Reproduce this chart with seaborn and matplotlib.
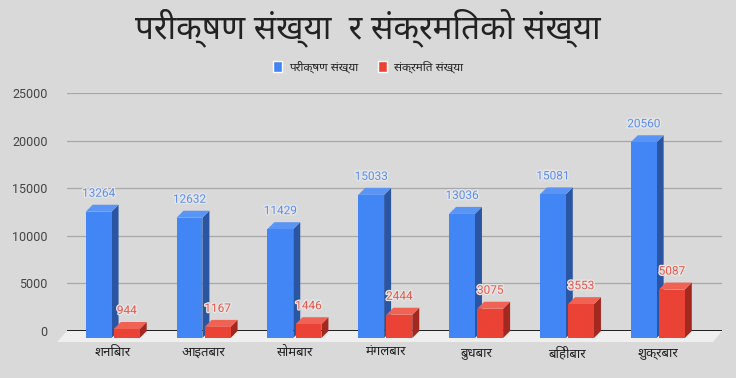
import numpy as np
import pandas as pd
import seaborn as sns
import matplotlib
matplotlib.use('Agg')
import matplotlib.pyplot as plt
from matplotlib import font_manager, ft2font
from matplotlib.patches import Patch, Polygon
from matplotlib.transforms import offset_copy, IdentityTransform
import matplotlib.patheffects as pe

days = ['शनिबार', 'आइतबार', 'सोमबार', 'मंगलबार', 'बुधबार', 'बिहीबार', 'शुक्रबार']
tests = [13264, 12632, 11429, 15033, 13036, 15081, 20560]
infected = [944, 1167, 1446, 2444, 3075, 3553, 5087]
series_names = ['परीक्षण संख्या', 'संक्रमित संख्या']
title = 'परीक्षण संख्या  र संक्रमितको संख्या'
y_ticks = [0, 5000, 10000, 15000, 20000, 25000]


def find_deva_font():
    # any installed font with Devanagari glyphs, nicer ones first
    found = []
    for f in font_manager.fontManager.ttflist:
        try:
            cmap = ft2font.FT2Font(f.fname).get_charmap()
        except Exception:
            continue
        if 0x092A in cmap and 0x0915 in cmap:
            found.append(f.name)
    for pref in ['Noto Sans Devanagari', 'Lohit Devanagari', 'Mukta', 'Kalimati', 'FreeSans']:
        if pref in found:
            return pref
    return found[0] if found else None


deva = find_deva_font()
deva_family = ([deva] if deva else []) + ['DejaVu Sans']

BG = '#d9d9d9'
BLUE = ['#4285f4', '#2a55a3', '#5a94f5']   # front, side, top
RED = ['#ea4335', '#a3281f', '#ef6254']
DEPTH = 7  # px

sns.set_theme(style='white')
plt.rcParams['font.family'] = deva_family

df = pd.DataFrame({
    'day': days * 2,
    'value': tests + infected,
    'series': [series_names[0]] * len(days) + [series_names[1]] * len(days),
})

fig = plt.figure(figsize=(7.36, 3.78), dpi=100, facecolor=BG)
ax = fig.add_axes([67 / 736, 47 / 378, 655 / 736, 238 / 378])
ax.set_facecolor(BG)

sns.barplot(data=df, x='day', y='value', hue='series', order=days,
            palette=[BLUE[0], RED[0]], saturation=1, width=0.62, gap=0.08,
            linewidth=0, edgecolor='none', legend=False, ax=ax, zorder=3)

ax.set_xlim(-0.58, 6.63)
ax.set_ylim(0, 25000)
ax.set_yticks(y_ticks)
ax.set_yticklabels([str(t) for t in y_ticks], family='Roboto', color='#444444', fontsize=9)
ax.tick_params(axis='y', length=0, pad=14)
ax.grid(axis='y', color='#a8a8a8', lw=0.9, zorder=0)
ax.set_axisbelow(True)
for s in ax.spines.values():
    s.set_visible(False)
ax.set_xlabel('')
ax.set_ylabel('')

fig.canvas.draw()

# floor strip under the bars
disp = ax.transData.transform
x0d, yb = disp((ax.get_xlim()[0], 0))
x1d, _ = disp((ax.get_xlim()[1], 0))
ax.add_patch(Polygon([(x0d, yb), (x1d, yb), (x1d - 9, yb - 11), (x0d - 10, yb - 11)],
                     closed=True, transform=IdentityTransform(), facecolor='#efefef',
                     edgecolor='none', zorder=1, clip_on=False))
ax.axhline(0, color='black', lw=1.2, zorder=1.5)

# 3d look: front face shifted down-left, side and top faces back to data position
front_tr = offset_copy(ax.transData, fig=fig, x=-DEPTH, y=-DEPTH, units='dots')
bars = list(ax.patches)[:2 * len(days)]
for i, p in enumerate(bars):
    cols = BLUE if i < len(days) else RED
    bx, by, bw, bh = p.get_x(), p.get_y(), p.get_width(), p.get_height()
    xl, yl = disp((bx, by))
    xr, yt = disp((bx + bw, by + bh))
    d = DEPTH
    side = [(xr - d, yl - d), (xr - d, yt - d), (xr, yt), (xr, yl)]
    top = [(xl - d, yt - d), (xr - d, yt - d), (xr, yt), (xl, yt)]
    ax.add_patch(Polygon(side, closed=True, transform=IdentityTransform(),
                         facecolor=cols[1], edgecolor='none', zorder=2, clip_on=False))
    ax.add_patch(Polygon(top, closed=True, transform=IdentityTransform(),
                         facecolor=cols[2], edgecolor='none', zorder=2, clip_on=False))
    p.set_transform(front_tr)
    p.set_clip_on(False)
    p.set_zorder(3)
    p.set_linewidth(0)

# value labels
lab_tr = offset_copy(ax.transData, fig=fig, x=-DEPTH, y=5, units='dots')
for i, p in enumerate(bars):
    val = (tests + infected)[i]
    col = '#5b8def' if i < len(days) else '#e8574b'
    ax.text(p.get_x() + p.get_width() / 2, val, str(val), transform=lab_tr,
            ha='center', va='bottom', color=col, fontsize=8.5, family='Roboto',
            zorder=6, clip_on=False,
            path_effects=[pe.withStroke(linewidth=2, foreground='#e6e6e6')])

# x labels, centred under the front faces
ax.set_xticks(range(len(days)))
ax.set_xticklabels(days, family=deva_family, fontsize=9.5, color='#222222')
ax.tick_params(axis='x', length=0, pad=11)
for lab in ax.get_xticklabels():
    lab.set_transform(offset_copy(lab.get_transform(), fig=fig, x=-DEPTH, y=0, units='dots'))

fig.text(0.5, 1 - 28 / 378, title, ha='center', va='center', fontsize=24,
         color='#222222', family=deva_family)
handles = [Patch(facecolor=BLUE[0]), Patch(facecolor=RED[0])]
fig.legend(handles, series_names, loc='center', bbox_to_anchor=(0.5, 1 - 67 / 378),
           ncol=2, frameon=False, handlelength=0.8, handleheight=1.1,
           handletextpad=0.6, columnspacing=1.6, prop={'family': deva_family, 'size': 8.5})

fig.savefig('out.png', dpi=100, facecolor=BG)
